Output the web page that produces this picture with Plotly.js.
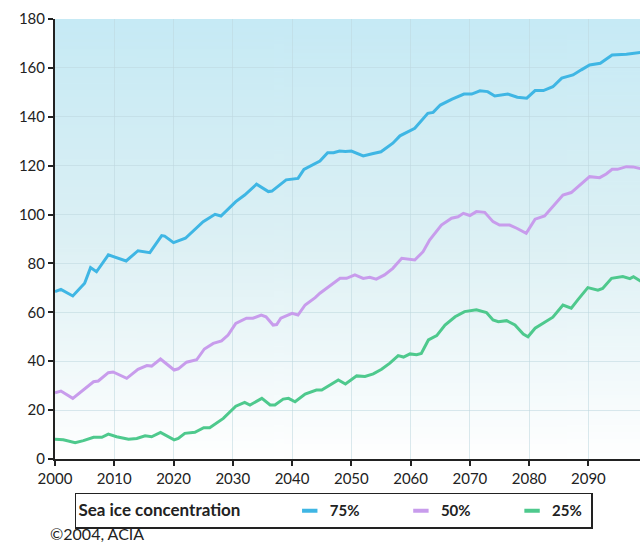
<!DOCTYPE html>
<html>
<head>
<meta charset="utf-8">
<script src="https://cdn.plot.ly/plotly-3.0.1.min.js"></script>
<style>html,body{margin:0;padding:0;background:#fff;}#chart{width:642px;height:543px;}</style>
</head>
<body>
<div id="chart"></div>
<script>
// Sea ice concentration series
const years75 = [2000,2001,2003,2005,2006,2007,2009,2012,2014,2016,2018,2018.5,2020,2022,2025,2027,2028,2030.5,2032,2034,2036,2036.6,2039,2041,2042,2044.7,2046,2047,2048,2049,2050,2052,2053.7,2055,2057,2058.2,2060.7,2062.9,2063.8,2065,2067,2069,2070.3,2071.7,2073,2074.2,2076.4,2078,2079.6,2081,2082.4,2084,2085.5,2087.4,2088.8,2090.2,2092,2094,2096.4,2099];
const values75 = [68.5,69.4,66.7,71.9,78.3,76.6,83.5,81,85.2,84.4,91.4,91.2,88.5,90.3,97.1,100.1,99.4,105.3,108,112.4,109.4,109.6,114.2,114.8,118.5,121.9,125.3,125.3,126,125.8,126,124,125,125.7,129.2,132.2,135.3,141.4,141.8,144.8,147.2,149.3,149.3,150.6,150.3,148.5,149.3,148,147.6,150.7,150.7,152.3,155.8,157.1,159.2,161.2,161.9,165.3,165.6,166.4];

const years50 = [2000,2001,2003,2004.8,2006.5,2007.3,2009,2009.8,2012.1,2014,2015.5,2016.3,2017.8,2020.1,2020.8,2022.2,2023.9,2025.2,2026.7,2028.1,2029.2,2030.5,2032.3,2033.4,2034.8,2035.6,2036.8,2037.4,2038.1,2040,2041,2042.2,2043.9,2044.7,2046.2,2048.1,2049.2,2050.6,2052,2053.1,2054.2,2055.6,2057,2058.5,2060.7,2062.1,2063.2,2065.2,2066.9,2068,2068.9,2070,2071.1,2072.5,2073.9,2075,2076.7,2077.9,2079.5,2081,2082.6,2084,2085.7,2087.1,2088.5,2090.2,2091.9,2093,2094,2094.9,2096.4,2097.5,2099];
const values50 = [27.1,27.8,24.8,28.2,31.6,31.9,35.3,35.6,33,36.7,38.2,38,40.9,36.4,36.9,39.6,40.6,45,47.3,48.3,50.7,55.5,57.6,57.6,58.9,58.2,54.8,55,57.6,59.6,58.9,63,66,67.8,70.6,73.9,73.9,75.3,73.9,74.3,73.6,75.3,78,82.1,81.4,84.8,89.6,95.7,98.5,99.1,100.5,99.6,101.2,100.9,97.1,95.7,95.7,94.4,92.3,98.1,99.4,103.2,108,109,112.1,115.5,115.1,116.6,118.5,118.5,119.6,119.5,118.7];

const years25 = [2000,2001.4,2003.4,2004.8,2006.5,2007.9,2009,2010.4,2012.4,2013.8,2015.2,2016.3,2017.8,2018.8,2020.1,2020.8,2021.9,2023.6,2025.1,2026.1,2028.4,2030.5,2032,2032.9,2034.9,2036.3,2037.1,2038.5,2039.4,2040.5,2042.2,2044.1,2045,2046.4,2047.8,2049,2050.9,2052.3,2053.7,2055.1,2056.5,2057.9,2058.8,2059.9,2061,2061.8,2063,2064.4,2065.8,2067.5,2069.1,2071.1,2072.8,2073.9,2074.8,2076.2,2077.6,2079,2079.8,2081,2082.6,2084,2085.7,2087.1,2088.2,2089.9,2091.6,2092.4,2093.9,2095.8,2097,2097.6,2099];
const values25 = [8.1,7.9,6.7,7.5,8.9,8.9,10.2,9.1,8.1,8.4,9.5,9.1,10.9,9.5,7.8,8.4,10.5,10.9,12.8,12.8,16.6,21.6,23.2,22.1,24.8,22.1,22.1,24.5,24.8,23.4,26.6,28.2,28.2,30.3,32.3,30.7,34,33.8,34.8,36.7,39.2,42.3,41.7,43,42.7,43.2,48.7,50.5,54.8,58.2,60.3,61,59.9,56.9,56.2,56.6,54.8,51.1,50,53.5,55.8,58,63,61.7,65.1,70.1,69.1,69.8,73.9,74.6,73.8,74.6,72.5];

const seriesNames = ['75%','50%','25%'];
const seriesColors = ['#3fb6e4','#c89cec','#4ec98d'];
const xTicks = [2000,2010,2020,2030,2040,2050,2060,2070,2080,2090];
const yTicks = [0,20,40,60,80,100,120,140,160,180];

// background gradient image
function gradientURL(){
  const c = document.createElement('canvas');
  c.width = 4; c.height = 256;
  const g = c.getContext('2d');
  const gr = g.createLinearGradient(0,0,0,256);
  gr.addColorStop(0,'#c6eaf5');
  gr.addColorStop(0.5,'#dcf0f4');
  gr.addColorStop(1,'#ffffff');
  g.fillStyle = gr; g.fillRect(0,0,4,256);
  return c.toDataURL('image/png');
}

const NB = '\u00a0';
const pad = n => NB.repeat(n);
const FONT = 'Lato, "Open Sans", sans-serif';
const xs = [years75, years50, years25];
const ys = [values75, values50, values25];
const namePads = [10, 10, 1];
const traces = [];
for (let i=0;i<3;i++){
  traces.push({x: xs[i], y: ys[i], type:'scatter', mode:'lines',
    line:{color:seriesColors[i], width:3, shape:'linear'}, showlegend:false, hoverinfo:'skip'});
}
for (let i=0;i<3;i++){
  traces.push({x:[null], y:[null], type:'scatter', mode:'markers', name:seriesNames[i] + pad(namePads[i]),
    marker:{symbol:'line-ew', size:11, line:{color:seriesColors[i], width:4}}, showlegend:true});
}

const layout = {
  width:642, height:543,
  margin:{l:55, r:2, t:19, b:84},
  paper_bgcolor:'#ffffff',
  plot_bgcolor:'rgba(0,0,0,0)',
  font:{family:FONT, color:'#222', size:15},
  xaxis:{range:[2000,2098.7], tickvals:xTicks, ticktext:xTicks.map(String), showgrid:true,
    gridcolor:'rgba(190,215,222,0.55)', gridwidth:1, showline:true, linecolor:'#222', linewidth:2,
    ticks:'outside', ticklen:5, tickcolor:'#222', tickwidth:2, zeroline:false, fixedrange:true,
    tickfont:{family:FONT, size:15, color:'#222'}},
  yaxis:{range:[0,180], tickvals:yTicks, ticktext:yTicks.map(String), showgrid:true,
    gridcolor:'rgba(190,215,222,0.55)', gridwidth:1, showline:true, linecolor:'#222', linewidth:2,
    ticks:'outside', ticklen:5, tickcolor:'#222', tickwidth:2, zeroline:false, fixedrange:true,
    tickfont:{family:FONT, size:15, color:'#222'}},
  images:[{source:gradientURL(), xref:'paper', yref:'paper', x:0, y:1, sizex:1, sizey:1,
    xanchor:'left', yanchor:'top', sizing:'stretch', layer:'below'}],
  showlegend:true,
  legend:{orientation:'h', x:0.034, xanchor:'left', y:-0.077, yanchor:'top',
    bgcolor:'#ffffff', bordercolor:'#222', borderwidth:1.5,
    font:{family:FONT, size:15, color:'#222', weight:'bold'},
    title:{text:'<b>Sea ice concentration</b>' + pad(10), side:'left', font:{family:FONT, size:17, color:'#222'}},
    itemwidth:30, tracegroupgap:0},
  annotations:[{text:'©2004, ACIA', xref:'paper', yref:'paper', x:-0.012, y:-0.17,
    xanchor:'left', yanchor:'middle', showarrow:false, font:{family:FONT, size:16, color:'#222'}}]
};

Plotly.newPlot('chart', traces, layout, {displayModeBar:false, staticPlot:true});
</script>
</body>
</html>
